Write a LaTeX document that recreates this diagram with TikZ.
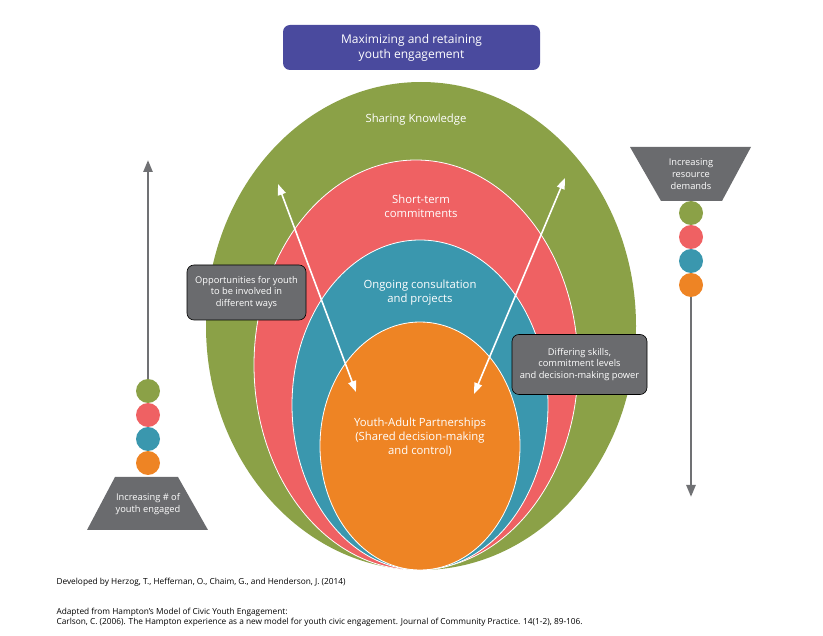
\documentclass[tikz,border=0pt]{standalone}
\usepackage{fontspec}
\setmainfont{Open Sans}
\usetikzlibrary{arrows.meta}
\definecolor{cg}{HTML}{8BA147}
\definecolor{cr}{HTML}{EF6163}
\definecolor{ct}{HTML}{3A97AE}
\definecolor{co}{HTML}{EE8424}
\definecolor{cp}{HTML}{4A4A9E}
\definecolor{gr}{HTML}{6A6B6E}
\definecolor{ga}{HTML}{707174}
\begin{document}
\begin{tikzpicture}[x=1pt,y=-1pt,
  ell/.style={draw=white,line width=0.8pt},
  lbl/.style={text=white,font=\fontsize{11.3}{14}\selectfont,align=center},
  gbox/.style={draw=black,line width=0.6pt,fill=gr,rounded corners=7pt,text=white,font=\fontsize{9.3}{11.3}\selectfont,align=center,inner sep=0pt},
  ball/.style={circle,fill=#1,minimum size=24pt,inner sep=0pt},
  warr/.style={draw=white,line width=1.6pt,{Triangle[width=8pt,length=11pt]}-{Triangle[width=8pt,length=11pt]}},
  garr/.style={draw=ga,line width=2.5pt,-{Triangle[width=9pt,length=12pt]}},
  foot/.style={font=\fontsize{8.3}{10}\selectfont,anchor=west,align=left}]
\useasboundingbox (0,0) rectangle (823,636);
\node[fill=cp,rounded corners=7pt,minimum width=257pt,minimum height=45pt,text=white,font=\fontsize{12}{15}\selectfont,align=center] (title) at (411.5,47.5) {Maximizing and retaining\\youth engagement};
\fill[cg] (421,326) ellipse [x radius=215,y radius=244];
\draw[ell,fill=cr] (416,365) ellipse [x radius=162,y radius=205];
\draw[ell,fill=ct] (420,405) ellipse [x radius=128,y radius=165];
\draw[ell,fill=co] (420,446) ellipse [x radius=100,y radius=124];
\node[lbl] (l1) at (416,120) {Sharing Knowledge};
\node[lbl] (l2) at (421,206) {Short-term\\commitments};
\node[lbl] (l3) at (420,293) {Ongoing consultation\\and projects};
\node[lbl] (l4) at (420,437) {Youth-Adult Partnerships\\(Shared decision-making\\and control)};
\coordinate (a1) at (278,184);
\coordinate (a2) at (356,392);
\coordinate (b1) at (565,178);
\coordinate (b2) at (474,394);
\draw[warr] (a1) -- (a2);
\draw[warr] (b1) -- (b2);
\node[gbox,minimum width=119pt,minimum height=55pt] (bx1) at (246.5,292.5) {Opportunities for youth\\to be involved in\\different ways};
\node[gbox,minimum width=135pt,minimum height=60pt] (bx2) at (579.5,364.5) {Differing skills,\\commitment levels\\and decision-making power};
% left
\node[ball=cg] (lg) at (148,391) {};
\node[ball=cr] (lr) at (148,415) {};
\node[ball=ct] (lt) at (148,439) {};
\node[ball=co] (lo) at (148,463) {};
\coordinate (ltop) at (148,160);
\draw[garr] (lg.north) -- (ltop);
\fill[gr] (115,477) -- (178,477) -- (208,530) -- (87,530) -- cycle;
\node[lbl,font=\fontsize{9.3}{11.8}\selectfont] (ltx) at (148,504) {Increasing \# of\\youth engaged};
% right
\fill[gr] (630,147) -- (751,147) -- (722,201) -- (661,201) -- cycle;
\node[lbl,font=\fontsize{9.3}{11.8}\selectfont] (rtx) at (691,174) {Increasing\\resource\\demands};
\node[ball=cg] (rg) at (691,213) {};
\node[ball=cr] (rr) at (691,237) {};
\node[ball=ct] (rt) at (691,261) {};
\node[ball=co] (ro) at (691,285) {};
\coordinate (rbot) at (691,497);
\draw[garr] (ro.south) -- (rbot);
\node[foot] (f1) at (53,582) {Developed by Herzog, T., Heffernan, O., Chaim, G., and Henderson, J.  (2014)};
\node[foot] (f2) at (53,617) {Adapted from Hampton's Model of Civic Youth Engagement:\\Carlson, C. (2006). The Hampton experience as a new model for youth civic engagement. Journal of Community Practice. 14(1-2), 89-106.};
\end{tikzpicture}
\end{document}
